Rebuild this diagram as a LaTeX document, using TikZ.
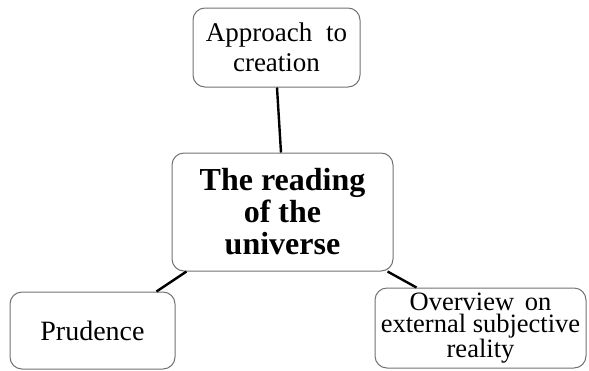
\documentclass[tikz,border=0pt]{standalone}
\usepackage{fontspec}
\setmainfont{Liberation Serif}
\begin{document}
\begin{tikzpicture}[x=1pt,y=-1pt,
  box/.style={draw=black!55,line width=1pt,rounded corners=12pt,fill=white,
    inner sep=0pt,align=center},
  link/.style={line width=2.4pt,black}]
\useasboundingbox (0,0) rectangle (589,370);
% concept boxes
\node[box,minimum width=167pt,minimum height=79pt,
  font=\fontsize{27}{30}\selectfont] (t) at (276.5,47.5)
  {Approach\hspace{7pt} to\\creation};
\node[box,minimum width=221pt,minimum height=118pt,
  font=\fontsize{32}{32}\selectfont\bfseries] (c) at (282.5,212)
  {The reading\\of the\\universe};
\node[box,minimum width=165pt,minimum height=77pt,
  font=\fontsize{28}{30}\selectfont] (p) at (92.5,330.5)
  {Prudence};
\node[box,minimum width=211pt,minimum height=80pt,
  font=\fontsize{26.5}{22}\selectfont] (o) at (480.5,328)
  {Overview\hspace{4pt} on\\external subjective\\reality};
% connectors
\draw[link] ([xshift=0.5pt]t.south) -- ([xshift=-1.5pt]c.north);
\draw[link] ([xshift=15pt]c.south west) -- ([xshift=147pt]p.north west);
\draw[link] ([xshift=-6pt]c.south east) -- ([xshift=42pt]o.north west);
\end{tikzpicture}
\end{document}
